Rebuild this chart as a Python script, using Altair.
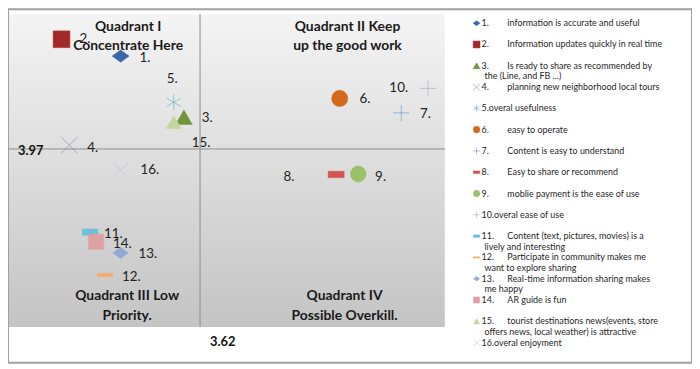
import altair as alt
import pandas as pd

# ---------------- data ----------------
IDS = [str(i) for i in range(1, 17)]
LABELS = [f"{i}." for i in range(1, 17)]
X_VALUES = [3.487, 3.388, 3.593, 3.401, 3.576, 3.854, 3.957, 3.848,
            3.885, 4.002, 3.436, 3.461, 3.487, 3.446, 3.576, 3.487]
Y_VALUES = [4.163, 4.198, 4.036, 3.978, 4.067, 4.075, 4.045, 3.917,
            3.918, 4.096, 3.797, 3.708, 3.754, 3.777, 4.026, 3.926]
X_MEAN = 3.62
Y_MEAN = 3.97

LEGEND_TEXT = [
    "information is accurate and useful",
    "Information updates quickly in real time",
    "Is ready to share as recommended by",
    "planning new neighborhood local tours",
    "overal usefulness",
    "easy to operate",
    "Content is easy to understand",
    "Easy to share or recommend",
    "moblie payment is the ease of use",
    "overal ease of use",
    "Content (text, pictures, movies) is a",
    "Participate in community makes me",
    "Real-time information sharing makes",
    "AR guide is fun",
    "tourist destinations news(events, store",
    "overal enjoyment",
]
LEGEND_TEXT2 = ["", "", "the (Line, and FB ...)", "", "", "", "", "", "", "",
                "lively and interesting", "want to explore sharing", "me happy", "",
                "offers news, local weather) is attractive", ""]
LEGEND_TABBED = [True, True, True, True, False, True, True, True,
                 True, False, True, True, True, True, True, False]

QUADRANTS = [["Quadrant I", "Concentrate Here"],
             ["Quadrant II  Keep", "up the good work"],
             ["Quadrant III  Low", "Priority."],
             ["Quadrant IV", "Possible Overkill."]]

# ---------------- styles ----------------
W, H = 689, 356
PX = [1, 440]
PY = [320, 5]
FONT = "Lato"

DIAMOND = "M-1,0L0,-0.72L1,0L0,0.72Z"
XMARK = "M-1,-1L1,1M-1,1L1,-1"
ASTER = "M0,-1V1M-0.87,-0.5L0.87,0.5M-0.87,0.5L0.87,-0.5"
PLUS = "M-1,0H1M0,-1V1"
DASH_T = "M-1,-0.4H1V0.4H-1Z"
DASH_W = "M-1,-0.2H1V0.2H-1Z"
SHAPES = [DIAMOND, "square", "triangle-up", XMARK, ASTER, "circle", PLUS, DASH_T,
          "circle", PLUS, DASH_T, DASH_W, DIAMOND, "square", "triangle-up", XMARK]
COLORS = ["#3B66A8", "#A3282A", "#71963A", "#7E6E9E", "#45A2BE", "#D4691E", "#4A7FC0", "#D25552",
          "#9CC067", "#A38FC0", "#6CC0D6", "#F8A96A", "#8EA9D3", "#DFA0A0", "#C4D79F", "#BDB3CF"]
STROKED = [False, False, False, True, True, False, True, False,
           False, True, False, False, False, False, False, True]
FILLS = ["transparent" if s else c for s, c in zip(STROKED, COLORS)]
SWIDTH = [2.0 if s else 0.5 for s in STROKED]
SIZES = [289, 225, 200, 196, 256, 201, 256, 64, 201, 256, 64, 225, 289, 225, 200, 196]
LEG_SIZES = [49, 36, 40, 36, 49, 38, 49, 36, 38, 49, 36, 49, 49, 36, 40, 36]
LEG_SW = [1.2 if s else 0.5 for s in STROKED]

LABEL_DX = [19, 18, 18, 18, -7, 20, 19, -53, 17, -39, 14, 17, 18, 17, 18, 20]
LABEL_DY = [2, 0, 1, 3, -23, 1, 1, 3, 3, 0, 2, 2, 1, 2, 21, 0]

xs = alt.Scale(domain=[3.3, 4.03], range=PX)
ys = alt.Scale(domain=[3.6, 4.25], range=PY)

df = pd.DataFrame({"id": IDS, "x": X_VALUES, "y": Y_VALUES, "label": LABELS})


def marker_enc(sizes, sws):
    return dict(
        shape=alt.Shape("id:N", scale=alt.Scale(domain=IDS, range=SHAPES), legend=None),
        fill=alt.Fill("id:N", scale=alt.Scale(domain=IDS, range=FILLS), legend=None),
        stroke=alt.Stroke("id:N", scale=alt.Scale(domain=IDS, range=COLORS), legend=None),
        size=alt.Size("id:O", scale=alt.Scale(domain=IDS, range=sizes), legend=None),
        strokeWidth=alt.StrokeWidth("id:O", scale=alt.Scale(domain=IDS, range=sws), legend=None),
    )


one = pd.DataFrame({"a": [0]})

bg = alt.Chart(one).mark_rect(
    fill=alt.Gradient(gradient="linear",
                      stops=[alt.GradientStop(color="#f4f4f4", offset=0),
                             alt.GradientStop(color="#c4c4c4", offset=1)],
                      x1=0, y1=0, x2=0, y2=1)
).encode(x=alt.value(PX[0]), x2=alt.value(PX[1]), y=alt.value(PY[1]), y2=alt.value(PY[0]))

vrule = alt.Chart(pd.DataFrame({"cx": [X_MEAN]})).mark_rule(color="#8c8c8c", strokeWidth=1).encode(
    x=alt.X("cx:Q", scale=xs, axis=None), y=alt.value(PY[1]), y2=alt.value(PY[0]))
hrule = alt.Chart(pd.DataFrame({"cy": [Y_MEAN]})).mark_rule(color="#8c8c8c", strokeWidth=1).encode(
    y=alt.Y("cy:Q", scale=ys, axis=None), x=alt.value(0), x2=alt.value(PX[1]))

ylab = alt.Chart(pd.DataFrame({"cy": [Y_MEAN], "t": [f"{Y_MEAN:.2f}"]})).mark_text(
    align="left", baseline="middle", font=FONT, fontWeight="bold", fontSize=13, color="#111", dy=2
).encode(y=alt.Y("cy:Q", scale=ys, axis=None), x=alt.value(10), text="t:N")
xlab = alt.Chart(pd.DataFrame({"cx": [X_MEAN], "t": [f"{X_MEAN:.2f}"]})).mark_text(
    align="left", baseline="middle", font=FONT, fontWeight="bold", fontSize=13, color="#111", dx=10
).encode(x=alt.X("cx:Q", scale=xs, axis=None), y=alt.value(335), text="t:N")

pts = alt.Chart(df).mark_point(filled=True, opacity=1, fillOpacity=1).encode(
    x=alt.X("x:Q", scale=xs, axis=None), y=alt.Y("y:Q", scale=ys, axis=None),
    **marker_enc(SIZES, SWIDTH))

label_layers = []
for pid, ddx, ddy in zip(IDS, LABEL_DX, LABEL_DY):
    label_layers.append(
        alt.Chart(df).transform_filter(alt.datum.id == pid).mark_text(
            align="left", baseline="middle", font=FONT, fontSize=13.5, color="#222",
            dx=ddx, dy=ddy
        ).encode(x=alt.X("x:Q", scale=xs, axis=None), y=alt.Y("y:Q", scale=ys, axis=None),
                 text="label:N"))

QPOS = [(121, 18), (342, 18), (120, 289), (339, 289)]
quads = []
for lines, (qx, qy) in zip(QUADRANTS, QPOS):
    quads.append(alt.Chart(one).mark_text(
        text=lines, align="center", baseline="middle", font=FONT, fontWeight="bold",
        fontSize=14, lineHeight=19.5, color="#1a1a1a"
    ).encode(x=alt.value(qx), y=alt.value(qy)))

main = alt.layer(bg, vrule, hrule, pts, *label_layers, ylab, xlab, *quads)

# ---------------- legend ----------------
leg = pd.DataFrame({
    "id": IDS,
    "row": list(range(16)),
    "left": [n if t else n + d for n, d, t in zip(LABELS, LEGEND_TEXT, LEGEND_TABBED)],
    "right": [d if t else "" for d, t in zip(LEGEND_TEXT, LEGEND_TABBED)],
    "line2": LEGEND_TEXT2,
})
leg["row2"] = leg["row"] + 0.5
ly = alt.Scale(domain=[0, 15], range=[14, 335.75])
ltext = dict(align="left", baseline="middle", font=FONT, fontSize=9, color="#1f1f1f")

leg_marks = alt.Chart(leg).mark_point(filled=True, opacity=1, fillOpacity=1).encode(
    x=alt.value(472), y=alt.Y("row:Q", scale=ly, axis=None), **marker_enc(LEG_SIZES, LEG_SW))
leg_left = alt.Chart(leg).mark_text(**ltext).encode(
    x=alt.value(477), y=alt.Y("row:Q", scale=ly, axis=None), text="left:N")
leg_right = alt.Chart(leg).mark_text(**ltext).encode(
    x=alt.value(503), y=alt.Y("row:Q", scale=ly, axis=None), text="right:N")
leg_l2 = alt.Chart(leg).mark_text(**ltext).encode(
    x=alt.value(480), y=alt.Y("row2:Q", scale=ly, axis=None), text="line2:N")

legend = alt.layer(leg_marks, leg_left, leg_right, leg_l2)

chart = alt.layer(main, legend).resolve_scale(
    x="independent", y="independent", shape="independent", fill="independent",
    stroke="independent", size="independent", strokeWidth="independent"
).properties(
    width=W, height=H, padding=0, autosize=alt.AutoSizeParams(type="none"),
    background="white"
).configure_view(stroke="#a0a0a0", strokeWidth=2)

chart.save("out.html", embed_options={"renderer": "svg", "actions": False})
